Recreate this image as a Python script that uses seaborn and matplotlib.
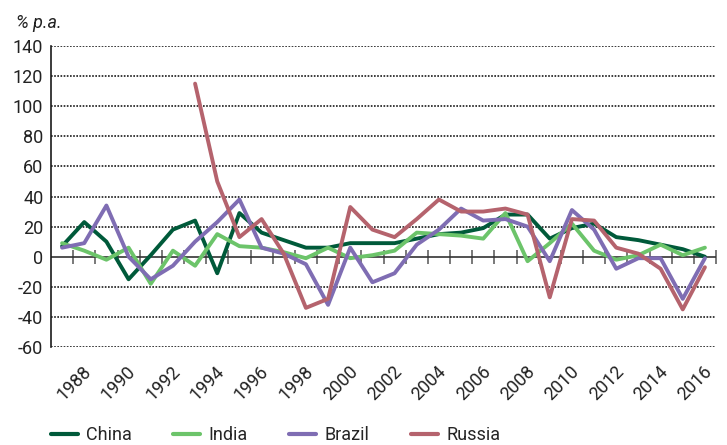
import numpy as np
import pandas as pd
import matplotlib
matplotlib.use("Agg")
import matplotlib.pyplot as plt
from matplotlib import font_manager
from matplotlib.transforms import ScaledTranslation
import seaborn as sns

years = list(range(1987, 2017))
china = [7, 23, 10, -15, 1, 18, 24, -11, 29, 16, 11, 6, 6, 9, 9, 9, 12, 15, 16,
         19, 28, 28, 12, 19, 22, 13, 11, 8, 5, 0]
india = [9, 4, -2, 6, -18, 4, -6, 15, 7, 6, 3, -1, 6, -1, 1, 4, 16, 15, 14,
         12, 29, -3, 9, 22, 4, -2, 1, 8, 1, 6]
brazil = [6, 9, 34, 0, -15, -6, 10, 23, 38, 6, 2, -5, -32, 6, -17, -11, 8, 18, 32,
          24, 25, 20, -3, 31, 18, -8, -1, -1, -28, -1]
russia = [np.nan] * 6 + [115, 50, 13, 25, 2, -34, -28, 33, 18, 13, 25, 38, 30,
                         30, 32, 28, -27, 25, 24, 6, 2, -8, -35, -7]
series_names = ["China", "India", "Brazil", "Russia"]
colors = ["#005a3a", "#6cc46a", "#7f6db3", "#b5636d"]
tick_years = list(range(1988, 2017, 2))
yticks = list(range(-60, 141, 20))

avail = {f.name for f in font_manager.fontManager.ttflist}
fam = "Roboto" if "Roboto" in avail else "Liberation Sans"
fs = 13

df = pd.DataFrame({"year": years * 4,
                   "value": china + india + brazil + russia,
                   "country": sum([[n] * len(years) for n in series_names], [])})
df = df.dropna()

sns.set_theme(style="white")
plt.rcParams["font.family"] = [fam, "DejaVu Sans"]
plt.rcParams["font.weight"] = "normal"

fig = plt.figure(figsize=(7.27, 4.45), dpi=100)
ax = fig.add_axes([51 / 727, 1 - 347 / 445, (716 - 51) / 727, (347 - 46) / 445])

sns.lineplot(data=df, x="year", y="value", hue="country", hue_order=series_names,
             palette=colors, linewidth=2.8, ax=ax, legend=False, sort=False)

ax.set_xlim(years[0] - 0.5, years[-1] + 0.5)
ax.set_ylim(-60, 140)
ax.set_yticks(yticks)
ax.set_yticklabels([str(v) for v in yticks], fontsize=fs, color="#222222")
ax.tick_params(axis="y", length=0, pad=5.5)
ax.set_xlabel("")
ax.set_ylabel("")

for v in yticks:
    if v != 0:
        ax.axhline(v, color="#1a1a1a", linestyle=(0, (1, 0.9)), linewidth=1.2, zorder=0)
ax.axhline(0, color="#333333", linewidth=1.2, zorder=1)

for s in ["top", "right", "bottom"]:
    ax.spines[s].set_visible(False)
ax.spines["left"].set_color("#1a1a1a")
ax.spines["left"].set_linewidth(1.2)

# x labels at bottom
ax.set_xticks(tick_years)
ax.set_xticklabels([str(y) for y in tick_years], rotation=45, ha="right",
                   va="center", rotation_mode="anchor", fontsize=fs, color="#222222")
ax.tick_params(axis="x", length=0, pad=16)
shift = ScaledTranslation(4.5 / 100, 0, fig.dpi_scale_trans)
for lab in ax.get_xticklabels():
    lab.set_transform(lab.get_transform() + shift)

# category boundary ticks on zero line
sec = ax.secondary_xaxis(60 / 200)
sec.spines["bottom"].set_visible(False)
sec.set_xticks([y + 0.5 for y in years])
sec.set_xticklabels([])
sec.tick_params(axis="x", direction="inout", length=10.5, width=1.1, color="#555555")

fig.text(16 / 727, 1 - 22.5 / 445, "% p.a.", fontsize=fs, style="italic",
         va="center", ha="left", color="#222222")

handles = [plt.Line2D([], [], color=c, linewidth=3) for c in colors]
fig.legend(handles, series_names, loc="center left", ncol=4, frameon=False,
           bbox_to_anchor=(47 / 727, 1 - 435 / 445), fontsize=fs,
           handlelength=1.5, columnspacing=2.3, handletextpad=0.45,
           borderpad=0.2, borderaxespad=0)

fig.savefig("out.png", dpi=100)
